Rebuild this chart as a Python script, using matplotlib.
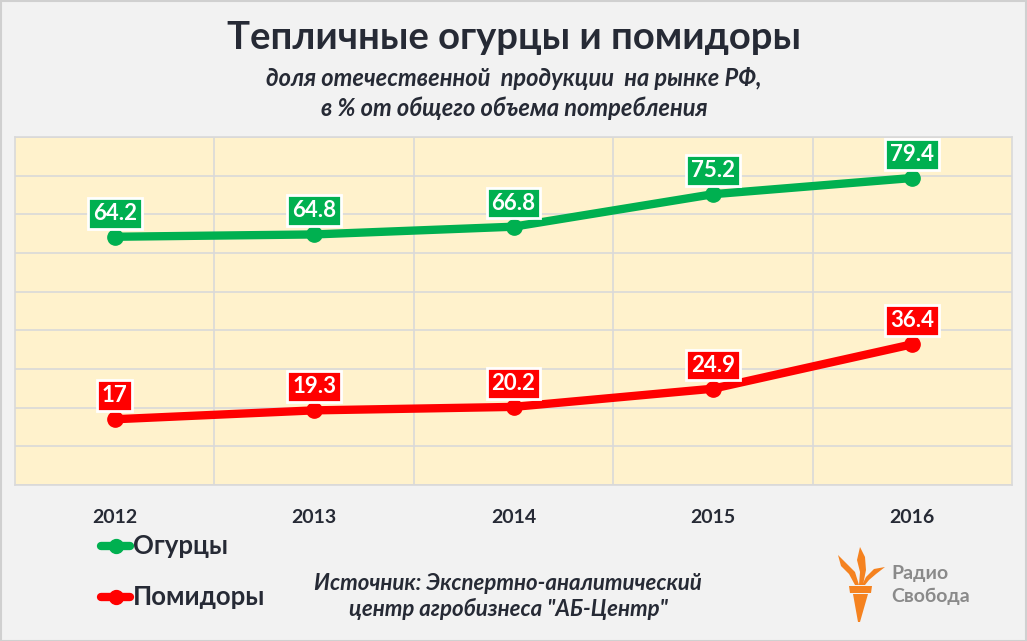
import matplotlib.pyplot as plt
from matplotlib.patches import Polygon, Rectangle
from matplotlib.lines import Line2D

# данные
годы = ["2012", "2013", "2014", "2015", "2016"]
огурцы = [64.2, 64.8, 66.8, 75.2, 79.4]
помидоры = [17, 19.3, 20.2, 24.9, 36.4]
подписи_огурцы = ["64.2", "64.8", "66.8", "75.2", "79.4"]
подписи_помидоры = ["17", "19.3", "20.2", "24.9", "36.4"]

ЗЕЛЕНЫЙ = "#00b050"
КРАСНЫЙ = "#ff0000"
ТЕМНЫЙ = "#262a35"
ШРИФТ = ["Lato", "DejaVu Sans"]

plt.rcParams["font.family"] = ШРИФТ

W, H = 1027, 641
fig = plt.figure(figsize=(W / 100, H / 100), dpi=100)
fig.patch.set_facecolor("#f2f2f2")
fig.patches.append(Rectangle((0.5 / W, 0.5 / H), 1 - 1.5 / W, 1 - 1.5 / H,
                             transform=fig.transFigure, fill=False,
                             edgecolor="#d0d0d0", linewidth=1.5))

ax = fig.add_axes([15 / W, (H - 485) / H, 997 / W, 348 / H])
ax.set_facecolor("#fff2cc")
ax.set_xlim(-0.5, 4.5)
ax.set_ylim(0, 90)
ax.set_yticks(range(0, 91, 10))
ax.set_xticks(range(len(годы)))
ax.set_xticklabels(годы, fontsize=14, fontweight="bold", color=ТЕМНЫЙ)
ax.tick_params(axis="x", length=0, pad=17)
ax.tick_params(axis="y", length=0, labelleft=False)
ax.grid(axis="y", color="#d9d9d9", linewidth=1.2)
for xg in [0.5, 1.5, 2.5, 3.5]:
    ax.axvline(xg, color="#d9d9d9", linewidth=1.2, zorder=0)
for s in ax.spines.values():
    s.set_color("#d9d9d9")
    s.set_linewidth(1.2)
ax.set_axisbelow(True)

x = list(range(len(годы)))
ax.plot(x, огурцы, color=ЗЕЛЕНЫЙ, linewidth=6, marker="o", markersize=11,
        solid_capstyle="round", zorder=3)
ax.plot(x, помидоры, color=КРАСНЫЙ, linewidth=6, marker="o", markersize=11,
        solid_capstyle="round", zorder=3)

for значения, подписи, цвет in [(огурцы, подписи_огурцы, ЗЕЛЕНЫЙ),
                                (помидоры, подписи_помидоры, КРАСНЫЙ)]:
    for xi, yi, txt in zip(x, значения, подписи):
        ax.annotate(txt, (xi, yi), xytext=(0, 17), textcoords="offset points",
                    ha="center", va="center", fontsize=16, fontweight="bold",
                    color="white", zorder=5,
                    bbox=dict(boxstyle="square,pad=0.22", facecolor=цвет,
                              edgecolor="white", linewidth=2))

# заголовки
fig.text(514 / W, 1 - 38 / H, "Тепличные огурцы и помидоры", ha="center",
         va="center", fontsize=27.5, fontweight="bold", color=ТЕМНЫЙ)
fig.text(514 / W, 1 - 78 / H, "доля отечественной  продукции  на рынке РФ,",
         ha="center", va="center", fontsize=17, fontweight="bold",
         fontstyle="italic", color=ТЕМНЫЙ)
fig.text(514 / W, 1 - 108 / H, "в % от общего объема потребления",
         ha="center", va="center", fontsize=17, fontweight="bold",
         fontstyle="italic", color=ТЕМНЫЙ)

# легенда
for y_px, цвет, имя in [(546, ЗЕЛЕНЫЙ, "Огурцы"), (597, КРАСНЫЙ, "Помидоры")]:
    yf = 1 - y_px / H
    fig.lines.append(Line2D([101 / W, 130 / W], [yf, yf], transform=fig.transFigure,
                            color=цвет, linewidth=6, solid_capstyle="round"))
    fig.lines.append(Line2D([116 / W], [yf], transform=fig.transFigure,
                            color=цвет, marker="o", markersize=10))
    fig.text(133 / W, yf, имя, ha="left", va="center", fontsize=18.5,
             fontweight="bold", color=ТЕМНЫЙ)

# источник
fig.text(508 / W, 1 - 583 / H, "Источник: Экспертно-аналитический", ha="center",
         va="center", fontsize=16, fontweight="bold", fontstyle="italic",
         color=ТЕМНЫЙ)
fig.text(508 / W, 1 - 609 / H, "центр агробизнеса \"АБ-Центр\"", ha="center",
         va="center", fontsize=16, fontweight="bold", fontstyle="italic",
         color=ТЕМНЫЙ)

# логотип (факел)
ОРАНЖ = "#f5821f"


def пиксели(точки):
    return [(px / W, 1 - py / H) for px, py in точки]


for форма in [
    # чаша
    [(849, 586), (872, 586), (871, 593), (850, 593)],
    # ручка
    [(853, 594), (868, 594), (860, 622), (858, 622)],
    # левое пламя
    [(838, 555), (846, 563), (855, 572), (859, 585), (855, 585), (849, 574), (841, 566)],
    # среднее пламя
    [(860, 547), (865, 557), (866, 570), (863, 585), (859, 585), (860, 572), (857, 560)],
    # правое пламя
    [(885, 567), (876, 574), (869, 580), (865, 585), (862, 585), (866, 577), (874, 569)],
]:
    fig.patches.append(Polygon(пиксели(форма), closed=True, transform=fig.transFigure,
                               facecolor=ОРАНЖ, edgecolor="none"))
fig.text(891 / W, 1 - 574 / H, "Радио", ha="left", va="center", fontsize=14,
         fontweight="bold", color="#8a8a8a")
fig.text(891 / W, 1 - 596 / H, "Свобода", ha="left", va="center", fontsize=14,
         fontweight="bold", color="#8a8a8a")

fig.savefig("out.png", dpi=100, facecolor=fig.get_facecolor())
